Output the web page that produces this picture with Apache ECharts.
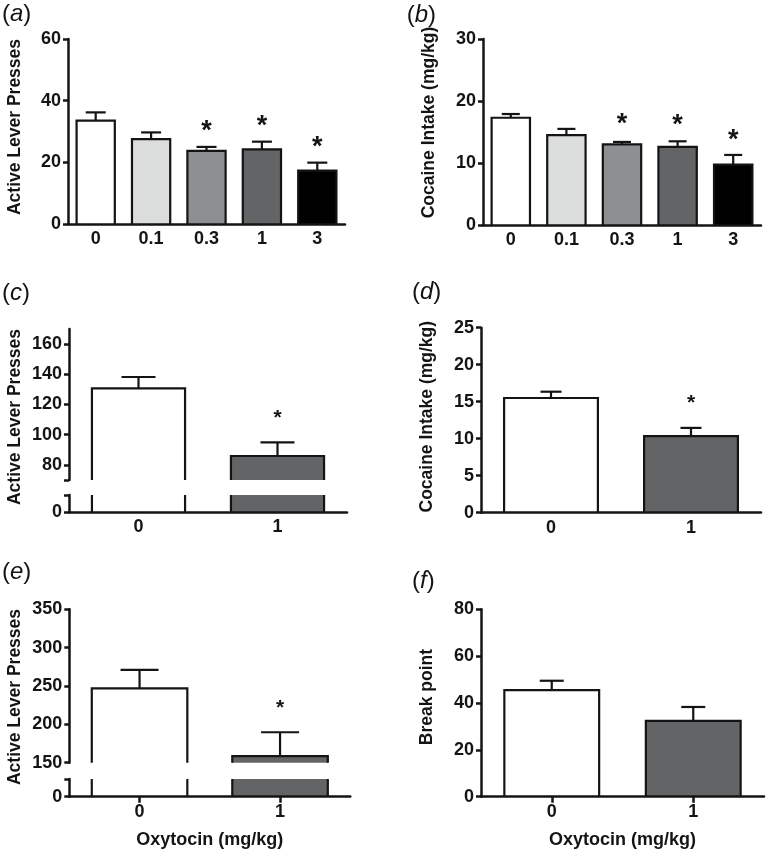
<!DOCTYPE html>
<html><head><meta charset="utf-8">
<script src="https://cdn.jsdelivr.net/npm/echarts@6/dist/echarts.min.js"></script>
<style>html,body{margin:0;padding:0;background:#fff}#c{width:768px;height:853px}</style>
</head><body><div id="c"></div><script>
// ---------- data ----------
const doseCats = ['0', '0.1', '0.3', '1', '3'];
const pairCats = ['0', '1'];
const doseColors = ['#ffffff', '#dcdddd', '#8e8f91', '#636466', '#000000'];
const pairColors = ['#ffffff', '#636466'];

const aMean = [33.5, 27.5, 23.7, 24.2, 17.3];
const aSem  = [2.7, 2.2, 1.3, 2.5, 2.6];
const aStar = [null, null, 31.8, 33.5, 26.8];

const bMean = [17.3, 14.5, 13.0, 12.6, 9.75];
const bSem  = [0.6, 1.0, 0.4, 0.9, 1.55];
const bStar = [null, null, 17.2, 17.0, 14.5];

const cMean = [130.7, 85.9];
const cSem  = [7.5, 9.0];
const cStar = [null, 113.7];

const dMean = [15.5, 10.36];
const dSem  = [0.85, 1.1];
const dStar = [null, 15.46];

const eMean = [247, 158.7];
const eSem  = [24, 31];
const eStar = [null, 227];

const fMean = [45.5, 32.4];
const fSem  = [4.0, 5.9];
const fStar = [null, null];

const aTicks = [0, 20, 40, 60];
const bTicks = [0, 10, 20, 30];
const cUpperTicks = [80, 100, 120, 140, 160];
const dTicks = [0, 5, 10, 15, 20, 25];
const eUpperTicks = [150, 200, 250, 300, 350];
const fTicks = [0, 20, 40, 60, 80];

// ---------- helpers ----------
const FONT = "'Liberation Sans', Arial, Helvetica, sans-serif";
const INK = '#141414';
const grids = [], xAxes = [], yAxes = [], series = [], graphics = [];

function barRenderer(colors, ratio, cap) {
  return function (params, api) {
    const i = api.value(0), v = api.value(1), s = api.value(2);
    const cs = params.coordSys;
    const bottom = cs.y + cs.height, topLim = cs.y;
    const c = api.coord([i, v]);
    const w = api.size([1, 0])[0] * ratio;
    const x0 = c[0] - w / 2, x1 = c[0] + w / 2;
    const clipped = c[1] < topLim;
    const yt = clipped ? topLim : c[1];
    const st = { stroke: INK, lineWidth: 2.2, fill: null, lineJoin: 'miter' };
    const children = [
      { type: 'rect', shape: { x: x0, y: yt, width: w, height: bottom - yt }, style: { fill: colors[i] } }
    ];
    if (clipped) {
      children.push({ type: 'line', shape: { x1: x0, y1: yt, x2: x0, y2: bottom }, style: st });
      children.push({ type: 'line', shape: { x1: x1, y1: yt, x2: x1, y2: bottom }, style: st });
    } else {
      children.push({ type: 'polyline', shape: { points: [[x0, bottom], [x0, yt], [x1, yt], [x1, bottom]] }, style: st });
      if (cap && s != null && !isNaN(s)) {
        const e = api.coord([i, v + s]);
        children.push({ type: 'line', shape: { x1: c[0], y1: yt, x2: c[0], y2: e[1] }, style: st });
        children.push({ type: 'line', shape: { x1: c[0] - cap / 2, y1: e[1], x2: c[0] + cap / 2, y2: e[1] }, style: st });
      }
    }
    return { type: 'group', children };
  };
}

function starRenderer(size) {
  return function (params, api) {
    const c = api.coord([api.value(0), api.value(1)]);
    return {
      type: 'text', x: c[0], y: c[1] + size * 0.22,
      style: { text: '*', font: 'bold ' + size + 'px ' + FONT, fill: INK, align: 'center', verticalAlign: 'middle' }
    };
  };
}

const axisLineStyle = { color: INK, width: 2.5 };
const tickLabel = { color: INK, fontSize: 18, fontWeight: 'bold', fontFamily: FONT };

// role: 'normal' | 'upper' | 'lower'
function addGrid(p) {
  const gi = grids.length;
  grids.push({ left: p.left, top: p.top, width: p.width, height: p.height, containLabel: false });
  const showX = p.role !== 'upper';
  const xa = {
    type: 'category', gridIndex: gi, data: p.cats, z: 10,
    axisLine: { show: showX, onZero: false, lineStyle: axisLineStyle },
    axisTick: { show: showX && !!p.xTicks, alignWithLabel: true, length: 6, lineStyle: axisLineStyle },
    axisLabel: Object.assign({ show: showX, margin: 6, interval: 0 }, tickLabel),
    splitLine: { show: false }
  };
  if (p.xName) {
    xa.name = p.xName; xa.nameLocation = 'middle'; xa.nameGap = 34;
    xa.nameTextStyle = { color: INK, fontSize: 18, fontWeight: 'bold', fontFamily: FONT };
  }
  xAxes.push(xa);
  const ya = {
    type: 'value', gridIndex: gi, min: p.min, max: p.max, z: 10,
    axisLine: { show: true, onZero: false, lineStyle: axisLineStyle },
    axisTick: { show: true, length: 5, lineStyle: axisLineStyle },
    axisLabel: Object.assign({ margin: 7, showMinLabel: true, showMaxLabel: true }, tickLabel),
    splitLine: { show: false }
  };
  if (p.interval) ya.interval = p.interval;
  if (p.tickValues) ya.axisTick.customValues = p.tickValues;
  if (p.labelValues) ya.axisLabel.customValues = p.labelValues;
  yAxes.push(ya);
  series.push({
    type: 'custom', xAxisIndex: gi, yAxisIndex: gi, clip: false, z: 2,
    encode: { x: 0, y: 1 },
    data: p.mean.map((m, i) => [i, m, p.sem ? p.sem[i] : NaN]),
    renderItem: barRenderer(p.colors, p.ratio, p.cap)
  });
  if (p.stars) {
    const sd = [];
    p.stars.forEach((v, i) => { if (v != null) sd.push([i, v]); });
    if (sd.length) series.push({
      type: 'custom', xAxisIndex: gi, yAxisIndex: gi, clip: false, z: 3,
      encode: { x: 0, y: 1 }, data: sd, renderItem: starRenderer(p.starSize)
    });
  }
}

function yTitle(text, x, y) {
  graphics.push({
    type: 'text', x: x, y: y, rotation: Math.PI / 2,
    style: { text: text, font: 'bold 17.5px ' + FONT, fill: INK, align: 'center', verticalAlign: 'middle' }
  });
}
function panelLabel(letter, x, y) {
  graphics.push({
    type: 'text', x: x, y: y,
    style: {
      text: '({i|' + letter + '})', fontSize: 24, fontFamily: FONT, fill: INK,
      align: 'left', verticalAlign: 'middle',
      rich: { i: { fontStyle: 'italic', fontSize: 24, fontFamily: FONT, fill: INK } }
    }
  });
}

// ---------- panels ----------
// (a)
addGrid({ role: 'normal', left: 68, top: 39, width: 277, height: 185, cats: doseCats, colors: doseColors,
  min: aTicks[0], max: aTicks[aTicks.length - 1], interval: 20, mean: aMean, sem: aSem, stars: aStar,
  ratio: 0.69, cap: 20, starSize: 27 });
// (b)
addGrid({ role: 'normal', left: 483, top: 39, width: 278, height: 186, cats: doseCats, colors: doseColors,
  min: bTicks[0], max: bTicks[bTicks.length - 1], interval: 10, mean: bMean, sem: bSem, stars: bStar,
  ratio: 0.69, cap: 18, starSize: 27 });
// (c) upper / lower
addGrid({ role: 'upper', left: 69, top: 329, width: 278, height: 151, cats: pairCats, colors: pairColors,
  min: 70, max: 170, tickValues: [70].concat(cUpperTicks), labelValues: cUpperTicks,
  mean: cMean, sem: cSem, stars: cStar, ratio: 0.67, cap: 34, starSize: 21 });
addGrid({ role: 'lower', left: 69, top: 495, width: 278, height: 17.3, cats: pairCats, colors: pairColors,
  min: 0, max: 10, tickValues: [0, 10], labelValues: [0],
  mean: cMean, ratio: 0.67, cap: 0 });
// (d)
addGrid({ role: 'normal', left: 481, top: 327.7, width: 280, height: 185, cats: pairCats, colors: pairColors,
  min: dTicks[0], max: dTicks[dTicks.length - 1], interval: 5, mean: dMean, sem: dSem, stars: dStar,
  ratio: 0.67, cap: 21, starSize: 21 });
// (e) upper / lower
addGrid({ role: 'upper', left: 69.3, top: 609.3, width: 281, height: 153.4, cats: pairCats, colors: pairColors,
  min: 150, max: 350, interval: 50, tickValues: eUpperTicks, labelValues: eUpperTicks,
  mean: eMean, sem: eSem, stars: eStar, ratio: 0.68, cap: 38, starSize: 21 });
addGrid({ role: 'lower', left: 69.3, top: 779, width: 281, height: 17.7, cats: pairCats, colors: pairColors,
  min: 0, max: 25, tickValues: [0, 25], labelValues: [0], xTicks: true, xName: 'Oxytocin (mg/kg)',
  mean: eMean, ratio: 0.68, cap: 0 });
// (f)
addGrid({ role: 'normal', left: 481, top: 609.3, width: 283, height: 187.4, cats: pairCats, colors: pairColors,
  min: fTicks[0], max: fTicks[fTicks.length - 1], interval: 20, mean: fMean, sem: fSem, stars: fStar,
  xTicks: true, xName: 'Oxytocin (mg/kg)', ratio: 0.67, cap: 24, starSize: 21 });

yTitle('Active Lever Presses', 15, 127);
yTitle('Cocaine Intake (mg/kg)', 429, 122.5);
yTitle('Active Lever Presses', 15, 417);
yTitle('Cocaine Intake (mg/kg)', 427.3, 416.7);
yTitle('Active Lever Presses', 15, 697);
yTitle('Break point', 427.3, 697);

panelLabel('a', 2, 14);
panelLabel('b', 406.7, 15);
panelLabel('c', 2, 293);
panelLabel('d', 412, 292);
panelLabel('e', 2, 572);
panelLabel('f', 412, 581);

const chart = echarts.init(document.getElementById('c'), null, { renderer: 'canvas' });
chart.setOption({
  animation: false,
  backgroundColor: '#ffffff',
  grid: grids, xAxis: xAxes, yAxis: yAxes, series: series,
  graphic: { elements: graphics }
});
</script></body></html>
